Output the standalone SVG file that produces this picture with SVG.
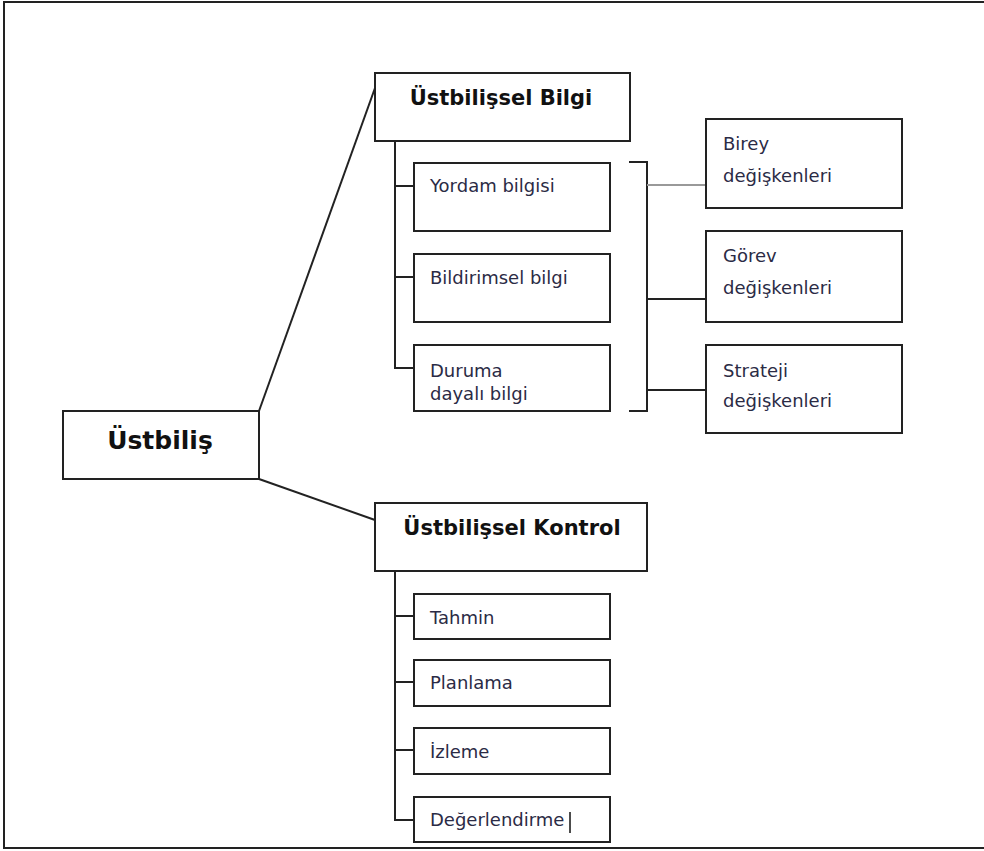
<svg xmlns="http://www.w3.org/2000/svg" width="984" height="851" viewBox="0 0 984 851">
<style>
.box{fill:#fff;stroke:#222;stroke-width:2}
.ln{fill:none;stroke:#222;stroke-width:2}
.t{font-family:"DejaVu Sans",Verdana,sans-serif;font-size:18px;fill:#2b2b45}
.h{font-family:"DejaVu Sans",Verdana,sans-serif;font-size:21px;font-weight:bold;fill:#111}
</style>
<rect x="0" y="0" width="984" height="851" fill="#fff"/>
<path d="M995 2 H4 V848 H995" fill="none" stroke="#222" stroke-width="2"/>
<g id="connectors">
<line class="ln" x1="259" y1="411" x2="375" y2="88" stroke-width="1.5"/>
<line class="ln" x1="259" y1="479" x2="375" y2="520" stroke-width="1.5"/>
<path class="ln" d="M395 141 V368 H414 M395 186 H414 M395 277 H414"/>
<path class="ln" d="M629 162 H647 V411 H629"/>
<line x1="647" y1="185" x2="706" y2="185" stroke="#999" stroke-width="2"/>
<path class="ln" d="M647 299 H706 M647 390 H706"/>
<path class="ln" d="M395 571 V820 H414 M395 616 H414 M395 682 H414 M395 750 H414"/>
</g>
<g id="ustbilis"><rect class="box" x="63" y="411" width="196" height="68"/><text class="h" x="160" y="449" text-anchor="middle" style="font-size:25px">Üstbiliş</text></g>
<g id="bilgi"><rect class="box" x="375" y="73" width="255" height="68"/><text class="h" x="501" y="105" text-anchor="middle">Üstbilişsel Bilgi</text></g>
<g id="yordam"><rect class="box" x="414" y="163" width="196" height="68"/><text class="t" x="430" y="192">Yordam bilgisi</text></g>
<g id="bildirimsel"><rect class="box" x="414" y="254" width="196" height="68"/><text class="t" x="430" y="284">Bildirimsel bilgi</text></g>
<g id="duruma"><rect class="box" x="414" y="345" width="196" height="66"/><text class="t" x="430" y="377">Duruma</text><text class="t" x="430" y="400">dayalı bilgi</text></g>
<g id="birey"><rect class="box" x="706" y="119" width="196" height="89"/><text class="t" x="723" y="150">Birey</text><text class="t" x="723" y="182">değişkenleri</text></g>
<g id="gorev"><rect class="box" x="706" y="231" width="196" height="91"/><text class="t" x="723" y="262">Görev</text><text class="t" x="723" y="294">değişkenleri</text></g>
<g id="strateji"><rect class="box" x="706" y="345" width="196" height="88"/><text class="t" x="723" y="377">Strateji</text><text class="t" x="723" y="407">değişkenleri</text></g>
<g id="kontrol"><rect class="box" x="375" y="503" width="272" height="68"/><text class="h" x="512" y="535" text-anchor="middle">Üstbilişsel Kontrol</text></g>
<g id="tahmin"><rect class="box" x="414" y="594" width="196" height="45"/><text class="t" x="430" y="624">Tahmin</text></g>
<g id="planlama"><rect class="box" x="414" y="660" width="196" height="46"/><text class="t" x="430" y="689">Planlama</text></g>
<g id="izleme"><rect class="box" x="414" y="728" width="196" height="46"/><text class="t" x="430" y="758">İzleme</text></g>
<g id="degerlendirme"><rect class="box" x="414" y="797" width="196" height="45"/><text class="t" x="430" y="826">Değerlendirme</text><line x1="570" y1="812" x2="570" y2="833" stroke="#111" stroke-width="1.5"/></g>
</svg>
